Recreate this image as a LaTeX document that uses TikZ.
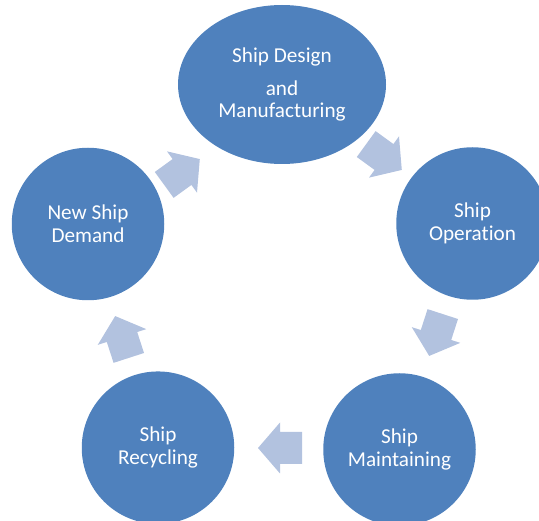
\documentclass[tikz,border=0pt]{standalone}
\usepackage{fontspec}
\setmainfont{Carlito}[Ligatures=NoCommon]
\usetikzlibrary{shapes.geometric}
\definecolor{circblue}{RGB}{79,129,189}
\definecolor{arrblue}{RGB}{178,194,223}
\tikzset{
  stage/.style={circle, fill=circblue, draw=none, minimum size=152.5pt, inner sep=0pt,
    text=white, align=center, font=\fontsize{21.2}{22.8}\selectfont},
  topstage/.style={ellipse, fill=circblue, draw=none, minimum width=208pt, minimum height=159pt,
    inner sep=0pt, text=white, align=center, font=\fontsize{21.2}{22.5}\selectfont},
  cyclearrow/.style={fill=arrblue, draw=none}
}
\newcommand{\cyclearr}[3]{%
  \begin{scope}[shift={(#1,#2)}, rotate=#3]
    \fill[cyclearrow] (-22,-16) -- (0,-16) -- (0,-25.5) -- (22,0) -- (0,25.5) -- (0,16) -- (-22,16) -- cycle;
  \end{scope}}
\begin{document}
\begin{tikzpicture}[x=1pt, y=-1pt]
  \useasboundingbox (0,0) rectangle (539,521);
  \node[topstage] (design) at (282,84.5) {Ship Design\\[10.5pt]and\\Manufacturing};
  \node[stage] (operation) at (472.5,223.5) {Ship\\Operation};
  \node[stage] (maintain) at (399.5,449.5) {Ship\\Maintaining};
  \node[stage] (recycle) at (158,447.7) {Ship\\Recycling};
  \node[stage] (demand) at (88,224) {New Ship\\Demand};
  \cyclearr{182}{172}{36}
  \cyclearr{384}{157}{-36}
  \cyclearr{436}{335}{-108}
  \cyclearr{280}{448}{180}
  \cyclearr{122}{337}{108}
\end{tikzpicture}
\end{document}
